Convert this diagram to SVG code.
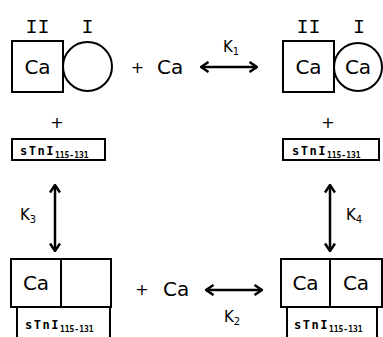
<svg xmlns="http://www.w3.org/2000/svg" width="383" height="337" viewBox="0 0 383 337">
  <style>
    .box { fill: #fff; stroke: #000; stroke-width: 2; }
    .ca { font-family: "DejaVu Sans", sans-serif; font-size: 20px; fill: #000; }
    .rn { font-family: "Liberation Mono", monospace; font-size: 20px; fill: #000; text-anchor: middle; }
    .plus { font-family: "DejaVu Sans", sans-serif; font-size: 16px; fill: #000; text-anchor: middle; }
    .k { font-family: "DejaVu Sans", sans-serif; font-size: 15px; fill: #000; }
    .sub { font-size: 10px; }
    .pep { font-family: "DejaVu Sans Mono", monospace; font-weight: bold; font-size: 12px; letter-spacing: 1.5px; fill: #000; }
    .pepsub { font-size: 8px; letter-spacing: 0; }
    .arrow { stroke: #000; stroke-width: 2.5; fill: none; marker-start: url(#head); marker-end: url(#head); }
  </style>
  <defs>
    <marker id="head" viewBox="0 0 10 12" refX="9" refY="6" markerWidth="10" markerHeight="12" markerUnits="userSpaceOnUse" orient="auto-start-reverse">
      <path d="M1.5,1 L9,6 L1.5,11" fill="none" stroke="#000" stroke-width="2.5"/>
    </marker>
  </defs>

  <g id="state-top-left">
    <text class="rn" x="37.5" y="33">II</text>
    <text class="rn" x="87.5" y="33">I</text>
    <rect class="box" x="12" y="41" width="51" height="51"/>
    <circle class="box" cx="87.5" cy="66.5" r="24.5"/>
    <text class="ca" x="37.5" y="74" text-anchor="middle">Ca</text>
  </g>

  <g id="plus-ca-top">
    <text class="ca"><tspan class="plus" x="137.5" y="73">+</tspan><tspan x="157" y="74">Ca</tspan></text>
  </g>

  <g id="state-top-right">
    <text class="rn" x="308.5" y="33">II</text>
    <text class="rn" x="359" y="33">I</text>
    <rect class="box" x="283" y="41" width="51" height="51"/>
    <circle class="box" cx="358" cy="67" r="24"/>
    <text class="ca" x="308.5" y="74" text-anchor="middle">Ca</text>
    <text class="ca" x="358" y="74" text-anchor="middle">Ca</text>
  </g>

  <g id="peptide-left">
    <text class="plus" x="57" y="128">+</text>
    <rect class="box" x="12" y="139" width="93" height="21"/>
    <text class="pep" x="20" y="155">sTnI<tspan class="pepsub" dy="3">115-131</tspan></text>
  </g>

  <g id="peptide-right">
    <text class="plus" x="328" y="128">+</text>
    <rect class="box" x="283" y="139" width="96" height="21"/>
    <text class="pep" x="292" y="155">sTnI<tspan class="pepsub" dy="3">115-131</tspan></text>
  </g>

  <g id="state-bottom-left">
    <rect class="box" x="11" y="259" width="100" height="48"/>
    <line x1="61" y1="259" x2="61" y2="307" stroke="#000" stroke-width="2"/>
    <text class="ca" x="36" y="290" text-anchor="middle">Ca</text>
    <rect class="box" x="17" y="307" width="93" height="33"/>
    <text class="pep" x="25" y="329">sTnI<tspan class="pepsub" dy="3">115-131</tspan></text>
  </g>

  <g id="plus-ca-bottom">
    <text class="ca"><tspan class="plus" x="142" y="295">+</tspan><tspan x="163" y="296">Ca</tspan></text>
  </g>

  <g id="state-bottom-right">
    <rect class="box" x="281" y="259" width="101" height="48"/>
    <line x1="330" y1="259" x2="330" y2="307" stroke="#000" stroke-width="2"/>
    <text class="ca" x="305.5" y="290" text-anchor="middle">Ca</text>
    <text class="ca" x="356" y="290" text-anchor="middle">Ca</text>
    <rect class="box" x="287" y="307" width="90" height="33"/>
    <text class="pep" x="294" y="329">sTnI<tspan class="pepsub" dy="3">115-131</tspan></text>
  </g>

  <g id="connectors">
    <line class="arrow" x1="201" y1="67" x2="257" y2="67"/>
    <text class="k" x="223" y="52">K<tspan class="sub" dy="3">1</tspan></text>
    <line class="arrow" x1="55" y1="185" x2="55" y2="251"/>
    <text class="k" x="20" y="220">K<tspan class="sub" dy="3">3</tspan></text>
    <line class="arrow" x1="330" y1="185" x2="330" y2="251"/>
    <text class="k" x="346" y="220">K<tspan class="sub" dy="3">4</tspan></text>
    <line class="arrow" x1="206" y1="290" x2="262" y2="290"/>
    <text class="k" x="224" y="322">K<tspan class="sub" dy="3">2</tspan></text>
  </g>
</svg>
